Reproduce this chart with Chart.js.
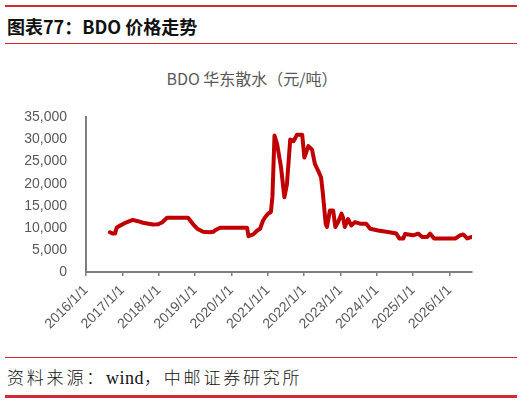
<!DOCTYPE html>
<html>
<head>
<meta charset="utf-8">
<script src="https://cdn.jsdelivr.net/npm/chart.js@4.4.1/dist/chart.umd.min.js"></script>
<style>
  html, body { margin: 0; padding: 0; background: #fff; }
  body { width: 525px; height: 404px; position: relative; overflow: hidden; }
  .rule { position: absolute; left: 5px; width: 512px; background: #d42a31; }
  #head { position: absolute; left: 7px; top: 13px; font: bold 18px "Noto Sans CJK SC", sans-serif; color: #111; white-space: nowrap; }
  #ctitle { position: absolute; left: 0; width: 504px; top: 66px; text-align: center; font: 16px "Noto Sans CJK SC", sans-serif; color: #595959; white-space: nowrap; }
  #foot { position: absolute; left: 7px; top: 364px; font: 300 17px "Noto Sans CJK SC", sans-serif; color: #111; white-space: nowrap; letter-spacing: 2.8px; }
  #foot .lat { font-family: "Liberation Serif", serif; font-weight: 400; font-size: 18px; letter-spacing: 0.5px; }
  #wrap { position: absolute; left: 0; top: 90px; width: 525px; height: 260px; }
  #wrap canvas { display: block; }
</style>
</head>
<body>
<div class="rule" style="top:5px;height:2px;"></div>
<div id="head">图表77：BDO 价格走势</div>
<div class="rule" style="top:43px;height:1px;"></div>
<div id="ctitle">BDO 华东散水（元/吨）</div>
<div id="wrap"><canvas id="c" width="525" height="260"></canvas></div>
<div class="rule" style="top:357px;height:1px;"></div>
<div id="foot">资料来源：<span class="lat">wind</span>，中邮证券研究所</div>
<div class="rule" style="top:395px;height:3px;"></div>
<script>
const dates = [
  "2016-08-29","2016-09-27","2016-10-19","2016-11-06","2016-12-09",
  "2017-02-06","2017-04-16","2017-06-06","2017-07-27","2017-11-03","2017-12-24",
  "2018-02-03","2018-03-26","2018-10-23","2018-12-13",
  "2019-01-23","2019-03-22","2019-05-30","2019-07-02","2019-07-31","2019-09-09",
  "2020-06-07","2020-06-21","2020-08-08","2020-09-17","2020-10-16","2020-11-14","2020-12-06",
  "2021-01-04","2021-02-02","2021-02-17","2021-03-10","2021-04-05","2021-05-15","2021-06-17",
  "2021-07-13","2021-08-15","2021-09-17","2021-10-23","2021-12-13",
  "2022-01-04","2022-02-13","2022-03-22","2022-04-20","2022-05-23","2022-06-21","2022-07-09",
  "2022-08-06","2022-08-19","2022-09-17","2022-10-20","2022-11-11","2022-12-09",
  "2023-01-12","2023-01-26","2023-02-14","2023-03-18","2023-04-20","2023-05-27","2023-07-17",
  "2023-09-17","2023-10-27",
  "2024-01-15","2024-05-08","2024-07-15","2024-08-15","2024-09-24","2024-10-12",
  "2025-01-01","2025-02-21","2025-04-02","2025-05-23","2025-06-21","2025-07-31",
  "2026-02-28","2026-04-16","2026-05-19","2026-06-28","2026-08-15"
];
const prices = [
  9000, 8700, 8700, 10100, 10500,
  11200, 11800, 11500, 11150, 10770, 10800,
  11200, 12270, 12270, 10800,
  9800, 9100, 9000, 9100, 9580, 10030,
  10030, 8100, 8500, 9400, 9800, 11600, 12400,
  13200, 13600, 17000, 30900, 29000, 23600, 16900,
  19900, 30000, 29600, 31100, 31100,
  25900, 28500, 27700, 24400, 22900, 21400, 17700,
  10900, 10200, 13900, 13900, 10200, 11300,
  13200, 12400, 10200, 12000, 10550, 11300, 10930,
  10930, 9800,
  9400, 9000, 8700, 7600, 7600, 8600,
  8300, 8680, 7930, 7930, 8680, 7560,
  7560, 8300, 8500, 7600, 7930
];
const tickYears = [2016, 2017, 2018, 2019, 2020, 2021, 2022, 2023, 2024, 2025, 2026];
const yTicks = [0, 5000, 10000, 15000, 20000, 25000, 30000, 35000];

function toYear(s) {
  const [y, m, d] = s.split("-").map(Number);
  const a = Date.UTC(y, 0, 1), b = Date.UTC(y + 1, 0, 1);
  return y + (Date.UTC(y, m - 1, d) - a) / (b - a);
}
const points = dates.map((d, i) => ({ x: toYear(d), y: prices[i] }));

new Chart(document.getElementById("c"), {
  type: "line",
  data: {
    datasets: [{
      data: points,
      borderColor: "#c00000",
      borderWidth: 4,
      pointRadius: 0,
      tension: 0,
      borderJoinStyle: "round",
      borderCapStyle: "round",
      fill: false
    }]
  },
  options: {
    responsive: false,
    animation: false,
    devicePixelRatio: 1,
    layout: { padding: { top: 6, right: 53, left: 0, bottom: 0 } },
    plugins: { legend: { display: false }, tooltip: { enabled: false }, title: { display: false } },
    scales: {
      x: {
        type: "linear",
        min: 2016,
        max: 2026.62,
        afterBuildTicks: s => { s.ticks = tickYears.map(v => ({ value: v })); },
        afterFit: s => { s.height = 78; },
        ticks: {
          autoSkip: false,
          minRotation: 45,
          maxRotation: 45,
          padding: 6,
          color: "#595959",
          font: { family: "Liberation Sans", size: 14 },
          callback: v => v + "/1/1"
        },
        grid: { display: true, drawOnChartArea: false, drawTicks: true, tickLength: 4, color: "#7f7f7f", lineWidth: 1.5 },
        border: { display: true, color: "#7f7f7f", width: 2 }
      },
      y: {
        min: 0,
        max: 35000,
        afterBuildTicks: s => { s.ticks = yTicks.map(v => ({ value: v })); },
        afterFit: s => { s.width = 86; },
        ticks: {
          padding: 19,
          color: "#595959",
          font: { family: "Liberation Sans", size: 14 },
          callback: v => v.toLocaleString("en-US")
        },
        grid: { display: false, drawTicks: false },
        border: { display: true, color: "#7f7f7f", width: 2 }
      }
    }
  }
});
</script>
</body>
</html>
